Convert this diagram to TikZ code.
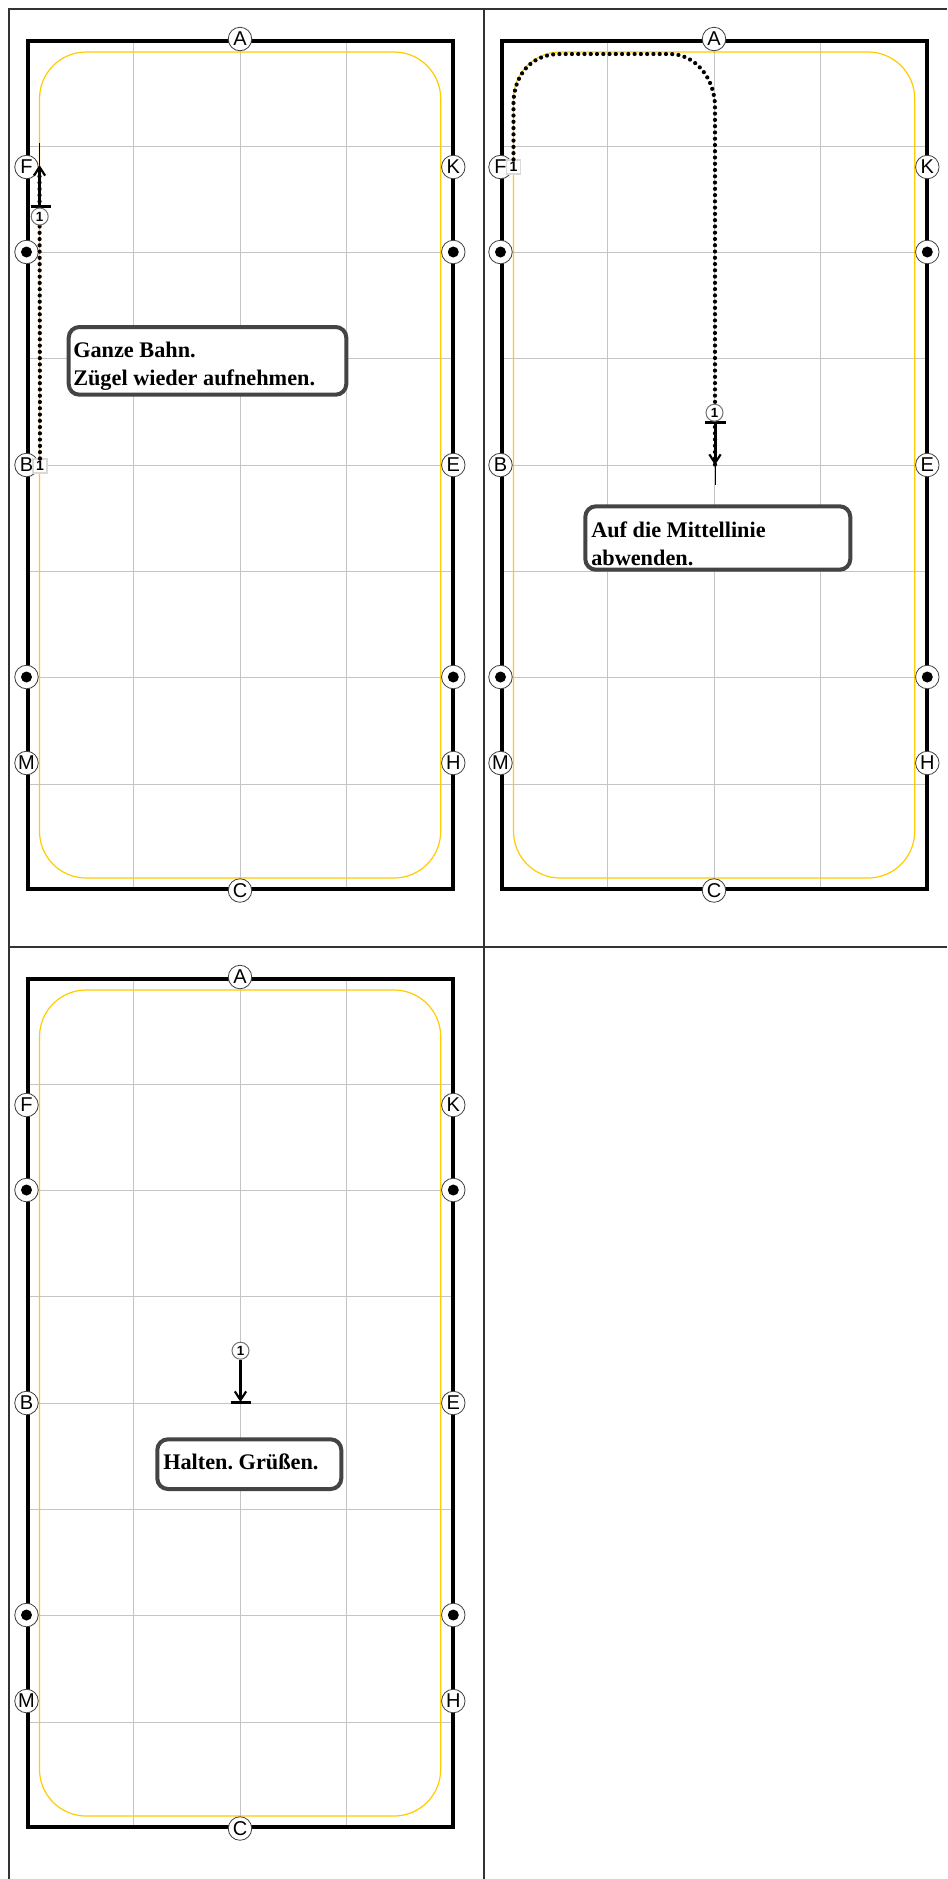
\documentclass[tikz,border=0pt]{standalone}
\usepackage{fontspec}
\setmainfont{Liberation Sans}
\newfontfamily\boxfont{Liberation Serif}[Scale=1.0]
\usetikzlibrary{arrows.meta,calc}
\definecolor{gridc}{HTML}{C4C4C4}
\definecolor{trackc}{HTML}{FFCC00}
\definecolor{framec}{HTML}{333333}
\definecolor{boxc}{HTML}{444444}
\tikzset{
  px/.style={line width=#1*0.75pt},
  gridline/.style={draw=gridc,px=1},
  arenaline/.style={draw=black,px=4,line join=miter},
  trackline/.style={draw=trackc,px=1.2},
  frameline/.style={draw=framec,px=2},
  letter/.style={circle,draw=black!75,px=0.8,fill=white,minimum size=23.5*0.75pt,inner sep=0pt,font=\fontsize{15}{15}\selectfont},
  dotmark/.style={letter},
  bigdot/.style={circle,fill=black,minimum size=11*0.75pt,inner sep=0pt},
  startsq/.style={rectangle,draw=black!15,px=1.2,fill=white,minimum size=14*0.75pt,inner sep=0pt,font=\bfseries\fontsize{10.5}{10.5}\selectfont},
  numc/.style={circle,draw=black!55,px=1,fill=white,minimum size=17*0.75pt,inner sep=0pt,font=\bfseries\fontsize{10}{10}\selectfont},
  dots/.style={draw=black,px=4.2,line cap=round,dash pattern=on 0pt off 4.7pt},
  thickarrow/.style={draw=black,px=3,-{Straight Barb[length=6.5pt,width=8.5pt,line width=1.6pt]}},
  tbar/.style={draw=black,px=3},
  thinline/.style={draw=black,px=1},
  msgbox/.style={draw=boxc,px=4,rounded corners=8pt,fill=white,anchor=north west,inner sep=0pt},
  msgtext/.style={anchor=base west,inner sep=0pt,align=left,font=\boxfont\bfseries\fontsize{16.7}{21}\selectfont},
}
\newcommand{\arenapanel}[3]{%
  \begin{scope}[shift={(#2,#3)}]
    \foreach \gx in {133.5,240,346.5} \draw[gridline] (\gx,41) -- (\gx,889);
    \foreach \gy in {146,252,358.5,465,571,677.5,784} \draw[gridline] (28,\gy) -- (453,\gy);
    \draw[arenaline] (28.3,41.3) rectangle (453,889);
    \draw[trackline,rounded corners=35pt] (39.5,52) rectangle (440.7,878);
    \node[letter] (#1A) at (240,39) {A};
    \node[letter] (#1C) at (240,890.5) {C};
    \node[letter] (#1F) at (26.5,167) {F};
    \node[letter] (#1B) at (26.5,465) {B};
    \node[letter] (#1M) at (26.5,763) {M};
    \node[letter] (#1K) at (453.3,167) {K};
    \node[letter] (#1E) at (453.3,465) {E};
    \node[letter] (#1H) at (453.3,763) {H};
    \foreach \n/\mx/\my in {p/26.5/252,q/26.5/677,r/453.3/252,s/453.3/677} {
      \node[dotmark] (#1\n) at (\mx,\my) {};
      \node[bigdot] (#1\n d) at (\mx,\my) {};
    }
  \end{scope}%
}
\begin{document}
\frenchspacing
\begin{tikzpicture}[x=0.75pt,y=-0.75pt]
\useasboundingbox (0,0) rectangle (947,1879);
\fill[white] (0,0) rectangle (947,1879);
% table frame
\coordinate (ftl) at (9,8.5);
\coordinate (ftr) at (947,8.5);
\coordinate (fbl) at (9,1879);
\coordinate (fmt) at (483.5,8.5);
\coordinate (fmb) at (483.5,1879);
\coordinate (frl) at (9,946.5);
\coordinate (frr) at (947,946.5);
\draw[frameline] (fbl) -- (ftl) -- (ftr);
\draw[frameline] (fmt) -- (fmb);
\draw[frameline] (frl) -- (frr);
\arenapanel{a}{0}{0}
\arenapanel{b}{474}{0}
\arenapanel{c}{0}{938}
% panel 1
\node[startsq] (s1) at (40,466) {1};
\coordinate (t1a) at (39.5,206.5);
\coordinate (t1tip) at (39.5,165);
\coordinate (t1end) at (39.5,143);
\coordinate (t1l) at (30.5,206.5);
\coordinate (t1r) at (50.5,206.5);
\draw[thinline] (t1tip) -- (t1end);
\draw[dots] (s1.north) -- (t1tip);
\draw[thickarrow] (t1a) -- (t1tip);
\draw[tbar] (t1l) -- (t1r);
\node[numc] (n1) at (39.7,216.5) {1};
\node[msgbox,minimum width=277.6*0.75pt,minimum height=67.7*0.75pt] (m1) at (66.7,325) {};
\node[msgtext] (x1) at (73,357) {Ganze Bahn.};
\node[msgtext] (x1b) at (73,385) {Zügel wieder aufnehmen.};
% panel 2
\node[startsq] (s2) at (513.5,167) {1};
\coordinate (t2a) at (715,422);
\coordinate (t2tip) at (715,465);
\coordinate (t2end) at (715,485);
\coordinate (t2l) at (705,422);
\coordinate (t2r) at (725.5,422);
\draw[thinline] (t2tip) -- (t2end);
\draw[dots] (s2.north) -- (513.5,100) .. controls (516,70) and (535,54) .. (560,54) -- (670,54) .. controls (695,54) and (715,78) .. (715,107) -- (t2tip);
\draw[thickarrow] (t2a) -- (t2tip);
\draw[tbar] (t2l) -- (t2r);
\node[numc] (n2) at (714.5,412.7) {1};
\node[msgbox,minimum width=265*0.75pt,minimum height=63.4*0.75pt] (m2) at (583.3,504.3) {};
\node[msgtext] (x2) at (591,537) {Auf die Mittellinie};
\node[msgtext] (x2b) at (591,565) {abwenden.};
% panel 3
\coordinate (t3tip) at (240.5,1402);
\coordinate (t3l) at (231,1402);
\coordinate (t3r) at (251,1402);
\node[numc] (n3) at (240.5,1350.7) {1};
\draw[thickarrow] (n3.south) -- (t3tip);
\draw[tbar] (t3l) -- (t3r);
\node[msgbox,minimum width=184*0.75pt,minimum height=49.7*0.75pt] (m3) at (155.3,1437.3) {};
\node[msgtext] (x3) at (163,1469) {Halten. Grüßen.};
\end{tikzpicture}
\end{document}
